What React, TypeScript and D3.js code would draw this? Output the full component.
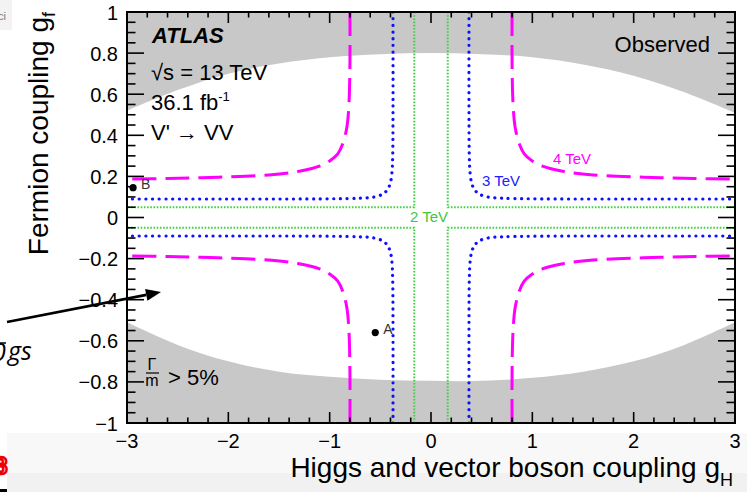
import React from "react";
import * as d3 from "d3";

const W = 747;
const H = 492;

// axis ranges & ticks
const xDomain: [number, number] = [-3, 3];
const yDomain: [number, number] = [-1, 1];
const xTickValues = [-3, -2, -1, 0, 1, 2, 3];
const xTickLabels = ["−3", "−2", "−1", "0", "1", "2", "3"];
const yTickValues = [-1, -0.8, -0.6, -0.4, -0.2, 0, 0.2, 0.4, 0.6, 0.8, 1];
const yTickLabels = ["−1", "−0.8", "−0.6", "−0.4", "−0.2", "0", "0.2", "0.4", "0.6", "0.8", "1"];

// Γ/m > 5% boundary (white allowed region between upper and lower)
const widthGH = [-3, -2.5, -2, -1.5, -1, -0.5, 0, 0.5, 1, 1.5, 2, 2.5, 3];
const widthUpper = [0.52, 0.62, 0.7, 0.75, 0.78, 0.795, 0.8, 0.795, 0.78, 0.745, 0.69, 0.61, 0.51];
const widthLower = [-0.51, -0.62, -0.7, -0.75, -0.775, -0.79, -0.795, -0.795, -0.78, -0.75, -0.7, -0.62, -0.51];

// contours, one quadrant (gH<0, gf>0); mirrored into the 4 quadrants
const c4GH = [-0.8, -0.8, -0.81, -0.83, -0.87, -0.92, -1.0, -1.1, -1.3, -1.6, -2.1, -2.6, -3.0];
const c4GF = [1.0, 0.75, 0.55, 0.44, 0.36, 0.31, 0.275, 0.25, 0.225, 0.207, 0.196, 0.19, 0.187];
const c3GH = [-0.375, -0.375, -0.378, -0.385, -0.4, -0.43, -0.48, -0.56, -0.7, -1.0, -2.0, -3.0];
const c3GF = [1.0, 0.5, 0.3, 0.22, 0.17, 0.135, 0.113, 0.1, 0.094, 0.091, 0.09, 0.09];
const c2GH = [-0.165, -0.165, -3.0];
const c2GF = [1.0, 0.05, 0.05];

const pointNames = ["A", "B"];
const pointGH = [-0.55, -2.94];
const pointGF = [-0.56, 0.145];

const FONT = "'Liberation Sans', Arial, Helvetica, sans-serif";

const L = 127, R = 735, T = 12, B = 423;

export default function App() {
  const x = d3.scaleLinear().domain(xDomain).range([L, R]);
  const y = d3.scaleLinear().domain(yDomain).range([B, T]);

  const area = d3
    .area<number>()
    .x((_, i) => x(widthGH[i]))
    .y0((_, i) => y(widthLower[i]))
    .y1((_, i) => y(widthUpper[i]))
    .curve(d3.curveCatmullRom.alpha(0.5));
  const allowedPath = area(widthGH) || "";

  const quads: [number, number][] = [
    [1, 1],
    [-1, 1],
    [1, -1],
    [-1, -1],
  ];
  const branchPaths = (gh: number[], gf: number[], smooth: boolean) => {
    const line = d3
      .line<[number, number]>()
      .x((d) => x(d[0]))
      .y((d) => y(d[1]))
      .curve(smooth ? d3.curveCatmullRom.alpha(0.5) : d3.curveLinear);
    return quads.map(([sx, sy]) =>
      line(gh.map((v, i) => [sx * v, sy * gf[i]] as [number, number])) || ""
    );
  };
  const p4 = branchPaths(c4GH, c4GF, true);
  const p3 = branchPaths(c3GH, c3GF, true);
  const p2 = branchPaths(c2GH, c2GF, false);

  const xMinor = d3.range(-3, 3.0001, 0.2).filter((v) => Math.abs(v - Math.round(v)) > 1e-6);
  const yMinor = d3.range(-1, 1.0001, 0.05).filter((v) => Math.abs(v * 5 - Math.round(v * 5)) > 1e-6);

  const xMaj = 11, xMin = 5.5, yMaj = 17, yMin = 8.5;

  // arrow annotation
  const ax0 = 7, ay0 = 322, ax1 = 161, ay1 = 292;
  const len = Math.hypot(ax1 - ax0, ay1 - ay0);
  const ux = (ax1 - ax0) / len, uy = (ay1 - ay0) / len;
  const hl = 15, hw = 6;
  const bx = ax1 - hl * ux, by = ay1 - hl * uy;
  const head = `${ax1},${ay1} ${bx - hw * uy},${by + hw * ux} ${bx + hw * uy},${by - hw * ux}`;

  return (
    <div style={{ position: "fixed", left: 0, top: 0, width: W, height: H, background: "#fff" }}>
      <svg width={W} height={H} viewBox={`0 0 ${W} ${H}`} style={{ display: "block", fontFamily: FONT }}>
        <defs>
          <clipPath id="frame">
            <rect x={L} y={T} width={R - L} height={B - T} />
          </clipPath>
        </defs>
        {/* slide background bits */}
        <rect x={0} y={0} width={W} height={H} fill="#ffffff" />
        <rect x={0} y={0} width={12} height={30} fill="#f3f3f3" />
        <text x={-2} y={20} fontSize={11} fill="#777" fontFamily={FONT}>ci</text>
        <rect x={7} y={433} width={W - 7} height={40} fill="#f8f8f8" />
        <rect x={7} y={473} width={W - 7} height={19} fill="#f1f1f1" />
        <rect x={0} y={489} width={7} height={3} fill="#000" />
        <text x={-6} y={474} fontSize={24} fontWeight="bold" fill="#fff" stroke="#e00" strokeWidth={2.5} fontFamily={FONT}>8</text>

        {/* plot area */}
        <g clipPath="url(#frame)">
          <rect x={L} y={T} width={R - L} height={B - T} fill="#c8c8c8" />
          <path d={allowedPath} fill="#ffffff" />
          {p2.map((d, i) => (
            <path key={"g" + i} d={d} fill="none" stroke="#3fd23f" strokeWidth={2} strokeDasharray="1.6 1.6" />
          ))}
          {p3.map((d, i) => (
            <path key={"b" + i} d={d} fill="none" stroke="#1010ff" strokeWidth={3.2} strokeLinecap="round" strokeDasharray="0.1 6.6" />
          ))}
          {p4.map((d, i) => (
            <path key={"m" + i} d={d} fill="none" stroke="#ff00ff" strokeWidth={3} strokeDasharray="24 9" />
          ))}
        </g>

        {/* contour labels */}
        <text x={553} y={164} fontSize={15} fill="#ff00ff">4 TeV</text>
        <text x={482} y={186} fontSize={15} fill="#2020ff">3 TeV</text>
        <text x={410} y={222} fontSize={15} fill="#3fc83f">2 TeV</text>

        {/* benchmark points */}
        {pointNames.map((n, i) => (
          <g key={n}>
            <circle cx={x(pointGH[i])} cy={y(pointGF[i])} r={3.6} fill="#000" />
            <text x={x(pointGH[i]) + 8} y={y(pointGF[i]) + 1} fontSize={14} fill="#333">{n}</text>
          </g>
        ))}

        {/* frame */}
        <rect x={L} y={T} width={R - L} height={B - T} fill="none" stroke="#000" strokeWidth={2} />

        {/* ticks */}
        <g stroke="#000" strokeWidth={1.6}>
          {xTickValues.map((v) => (
            <g key={"xt" + v}>
              <line x1={x(v)} x2={x(v)} y1={B} y2={B - xMaj} />
              <line x1={x(v)} x2={x(v)} y1={T} y2={T + xMaj} />
            </g>
          ))}
          {xMinor.map((v, i) => (
            <g key={"xm" + i}>
              <line x1={x(v)} x2={x(v)} y1={B} y2={B - xMin} />
              <line x1={x(v)} x2={x(v)} y1={T} y2={T + xMin} />
            </g>
          ))}
          {yTickValues.map((v) => (
            <g key={"yt" + v}>
              <line x1={L} x2={L + yMaj} y1={y(v)} y2={y(v)} />
              <line x1={R} x2={R - yMaj} y1={y(v)} y2={y(v)} />
            </g>
          ))}
          {yMinor.map((v, i) => (
            <g key={"ym" + i}>
              <line x1={L} x2={L + yMin} y1={y(v)} y2={y(v)} />
              <line x1={R} x2={R - yMin} y1={y(v)} y2={y(v)} />
            </g>
          ))}
        </g>

        {/* tick labels */}
        {xTickValues.map((v, i) => (
          <text key={"xl" + v} x={x(v)} y={448} fontSize={20} textAnchor="middle" fill="#000">
            {xTickLabels[i]}
          </text>
        ))}
        {yTickValues.map((v, i) => (
          <text key={"yl" + v} x={118} y={y(v) + 7.5} fontSize={20} textAnchor="end" fill="#000">
            {yTickLabels[i]}
          </text>
        ))}

        {/* axis titles */}
        <text x={733} y={477} fontSize={28} textAnchor="end" fill="#000">
          Higgs and vector boson coupling g
          <tspan fontSize={18} dy={9}>H</tspan>
        </text>
        <text transform="translate(48,12) rotate(-90)" fontSize={28} textAnchor="end" fill="#000">
          Fermion coupling g
          <tspan fontSize={18} dy={7}>f</tspan>
        </text>

        {/* in-plot text */}
        <text x={152} y={43} fontSize={22} fontWeight="bold" fontStyle="italic" fill="#000">ATLAS</text>
        <text x={151} y={80} fontSize={22} fill="#000">√s = 13 TeV</text>
        <text x={151} y={110} fontSize={22} fill="#000">
          36.1 fb<tspan fontSize={13} dy={-9}>-1</tspan>
        </text>
        <text x={151} y={140} fontSize={22} fill="#000">V' → VV</text>
        <text x={710} y={52} fontSize={22} textAnchor="end" fill="#000">Observed</text>

        <text x={152} y={370} fontSize={16} textAnchor="middle" fill="#000">Γ</text>
        <line x1={146} x2={159} y1={373} y2={373} stroke="#000" strokeWidth={1.2} />
        <text x={152} y={386} fontSize={16} textAnchor="middle" fill="#000">m</text>
        <text x={168} y={385} fontSize={22} fill="#000">&gt; 5%</text>

        {/* slide annotation: arrow and partial text */}
        <line x1={ax0} y1={ay0} x2={bx} y2={by} stroke="#000" strokeWidth={2.6} />
        <polygon points={head} fill="#000" />
        <line x1={0} x2={6} y1={343} y2={343} stroke="#000" strokeWidth={1.5} />
        <text x={-8} y={361} fontSize={25} fontStyle="italic" fill="#000" fontFamily="'Open Sans', sans-serif">0</text>
        <text x={8} y={360} fontSize={25} fontStyle="italic" fill="#000" fontFamily="'Open Sans', sans-serif">gs</text>
      </svg>
    </div>
  );
}
